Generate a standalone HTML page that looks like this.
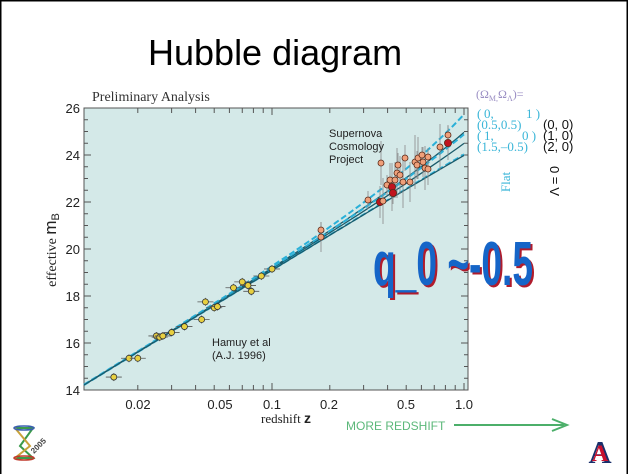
<!DOCTYPE html>
<html><head><meta charset="utf-8"><style>
html,body{margin:0;padding:0;background:#fff;}
svg{display:block;}
</style></head><body>
<svg id="s" width="628" height="474" viewBox="0 0 628 474" xmlns="http://www.w3.org/2000/svg">
<rect x="0" y="0" width="628" height="474" fill="#fff"/>
<rect x="0.5" y="0.5" width="627" height="480" fill="none" stroke="#000" stroke-width="2"/>
<text x="148" y="65" font-family="Liberation Sans, sans-serif" font-size="36" fill="#000">Hubble diagram</text>
<text x="92" y="101" font-family="Liberation Serif, serif" font-size="14" fill="#333">Preliminary Analysis</text>
<rect x="84" y="108" width="384" height="282" fill="#d4e9e8" stroke="#555" stroke-width="1"/>
<g id="ticks" stroke="#555" stroke-width="1"></g>
<g font-family="Liberation Sans, sans-serif" font-size="13" fill="#222" text-anchor="end">
<text x="80" y="113">26</text><text x="80" y="160">24</text><text x="80" y="207">22</text>
<text x="80" y="254">20</text><text x="80" y="301">18</text><text x="80" y="348">16</text><text x="80" y="395">14</text>
</g>
<g font-family="Liberation Sans, sans-serif" font-size="13" fill="#222" text-anchor="middle">
<text x="138" y="409">0.02</text><text x="220" y="409">0.05</text><text x="272" y="409">0.1</text>
<text x="329" y="409">0.2</text><text x="406" y="409">0.5</text><text x="464" y="409">1.0</text>
</g>
<text x="286" y="423" font-family="Liberation Serif, serif" font-size="13" fill="#222" text-anchor="middle">redshift <tspan font-family="Liberation Sans, sans-serif" font-weight="bold" font-size="14">z</tspan></text>
<text transform="translate(56,250) rotate(-90)" font-family="Liberation Serif, serif" font-size="14" fill="#222" text-anchor="middle">effective <tspan font-family="Liberation Sans, sans-serif" font-size="17">m</tspan><tspan font-family="Liberation Sans, sans-serif" font-size="11" dy="3">B</tspan></text>
<g id="curves"></g>
<g id="pts"></g>
<g font-family="Liberation Sans, sans-serif" font-size="11" fill="#222">
<text x="329" y="137">Supernova</text><text x="329" y="150">Cosmology</text><text x="329" y="163">Project</text>
<text x="212" y="346">Hamuy et al</text><text x="212" y="359">(A.J. 1996)</text>
</g>
<text x="476" y="98" font-family="Liberation Serif, serif" font-size="12" fill="#9b8fc4">(Ω<tspan font-size="8" dy="3">M,</tspan><tspan dy="-3">Ω</tspan><tspan font-size="8" dy="3">Λ</tspan><tspan dy="-3">)=</tspan></text>
<g font-family="Liberation Serif, serif" font-size="13" fill="#3bb6d8">
<text x="477" y="118">(</text><text x="484" y="118">0,</text><text x="526" y="118">1 )</text>
<text x="477" y="129">(0.5,0.5)</text>
<text x="477" y="140">(</text><text x="484" y="140">1,</text><text x="522" y="140">0 )</text>
<text x="477" y="151">(1.5,–0.5)</text>
<text transform="translate(510,182) rotate(-90)" text-anchor="middle">Flat</text>
</g>
<g font-family="Liberation Sans, sans-serif" font-size="13" fill="#111">
<text x="543" y="129">(0, 0)</text><text x="543" y="140">(1, 0)</text><text x="543" y="151">(2, 0)</text>
<text transform="translate(559,181) rotate(-90)" text-anchor="middle">Λ = 0</text>
</g>
<g font-family="Liberation Sans, sans-serif" font-weight="bold" font-size="62">
<text x="375" y="287" fill="#b01c2c" textLength="160" lengthAdjust="spacingAndGlyphs">q_0 ~-0.5</text>
<text x="373" y="285" fill="#1565c8" textLength="160" lengthAdjust="spacingAndGlyphs">q_0 ~-0.5</text>
</g>
<text x="346" y="430" font-family="Liberation Sans, sans-serif" font-size="12" fill="#5cb87a">MORE REDSHIFT</text>
<line x1="454" y1="425" x2="564" y2="425" stroke="#4caf6a" stroke-width="2"/>
<polyline points="552,419 567,425 552,431" fill="none" stroke="#4caf6a" stroke-width="2"/>
<g>
<path d="M15,428 L33,428 L20,446 L33,458 L15,458" fill="none" stroke="#3a9a4a" stroke-width="2"/>
<path d="M15,428 L30,446 L15,458" fill="none" stroke="#c9a23a" stroke-width="2"/>
<ellipse cx="24" cy="428" rx="10" ry="2" fill="none" stroke="#3a5fb0" stroke-width="1.5"/>
<ellipse cx="24" cy="458" rx="10" ry="2" fill="none" stroke="#c0392b" stroke-width="1.5"/>
<text transform="translate(34,454) rotate(-45)" font-family="Liberation Sans, sans-serif" font-size="8" font-weight="bold" fill="#444">2005</text>
</g>
<g font-family="Liberation Serif, serif" font-weight="bold">
<text x="600" y="463" font-size="32" fill="#1a2f6b" text-anchor="middle">A</text>
<text x="600" y="461" font-size="23" fill="#c8102e" text-anchor="middle">A</text>
</g>
</svg>
<script>
var NS="http://www.w3.org/2000/svg";
function X(z){return 272+192*Math.log10(z/0.1);}
function Y(m){return 390-(m-14)*23.5;}
function el(t,a,p){var e=document.createElementNS(NS,t);for(var k in a)e.setAttribute(k,a[k]);p.appendChild(e);return e;}
var tk=document.getElementById('ticks');
for(var m=14;m<=26;m+=0.5){var y=Y(m),L=(m%2==0)?7:4;el('line',{x1:84,y1:y,x2:84+L,y2:y},tk);el('line',{x1:468,y1:y,x2:468-L,y2:y},tk);}
var zs=[0.02,0.03,0.04,0.05,0.06,0.07,0.08,0.09,0.1,0.2,0.3,0.4,0.5,0.6,0.7,0.8,0.9,1.0];
zs.forEach(function(z){var x=X(z);var L=(z==0.1||z==1)?7:5;el('line',{x1:x,y1:390,x2:x,y2:390-L},tk);el('line',{x1:x,y1:108,x2:x,y2:108+L},tk);});
var cv=document.getElementById('curves');
var offs=[[-38,'#2ab0d8',1],[-20,'#1a5a6a',0],[-18,'#2ab0d8',1],[-9,'#1a5a6a',0],[2,'#2ab0d8',1],[3,'#1a5a6a',0]];
offs.forEach(function(o){var pts=[];for(var i=0;i<=60;i++){var lz=-1.979+i*1.979/60;var z=Math.pow(10,lz);var x=X(z);var y=385-(x-84)*(117.5/192);y+=o[0]*z;pts.push(x.toFixed(1)+','+y.toFixed(1));}
var a={points:pts.join(' '),fill:'none',stroke:o[1],'stroke-width':o[2]?2:1.3};if(o[2])a['stroke-dasharray']='6,3';el('polyline',a,cv);});
var P=document.getElementById('pts');
var low=[[0.015,14.55],[0.018,15.35],[0.02,15.35],[0.025,16.3],[0.026,16.25],[0.027,16.3],[0.03,16.45],[0.035,16.7],[0.043,17.0],[0.045,17.75],[0.05,17.5],[0.052,17.55],[0.063,18.35],[0.07,18.6],[0.075,18.45],[0.078,18.2],[0.088,18.85],[0.1,19.15]];
low.forEach(function(p){var x=X(p[0]),y=Y(p[1]);el('line',{x1:x-8,y1:y,x2:x+8,y2:y,stroke:'#555','stroke-width':0.8},P);el('line',{x1:x,y1:y-4,x2:x,y2:y+4,stroke:'#555','stroke-width':0.8},P);el('circle',{cx:x,cy:y,r:3,fill:'#e8d040',stroke:'#333','stroke-width':0.8},P);});
var hi=[[321,230,0],[321,237,0],[381,163,0],[368,200,0],[380,202,1],[383,201,0],[387,185,0],[390,180,0],[392,187,1],[393,193,1],[395,180,0],[397,173,0],[398,165,0],[400,175,0],[403,182,0],[405,158,0],[410,182,0],[415,162,0],[417,165,0],[418,158,0],[422,155,0],[423,162,0],[425,168,0],[428,157,0],[428,169,0],[440,147,0],[448,135,0],[448,143,1]];
hi.forEach(function(p,i){var e=8+(i*7)%20;el('line',{x1:p[0],y1:p[1]-e,x2:p[0],y2:p[1]+e,stroke:'#888','stroke-width':0.8},P);});
hi.forEach(function(p){el('circle',{cx:p[0],cy:p[1],r:p[2]?3.6:3,fill:p[2]?'#c0141e':'#f0a07a',stroke:'#5a2a1a','stroke-width':0.8},P);});
</script>
</body></html>
